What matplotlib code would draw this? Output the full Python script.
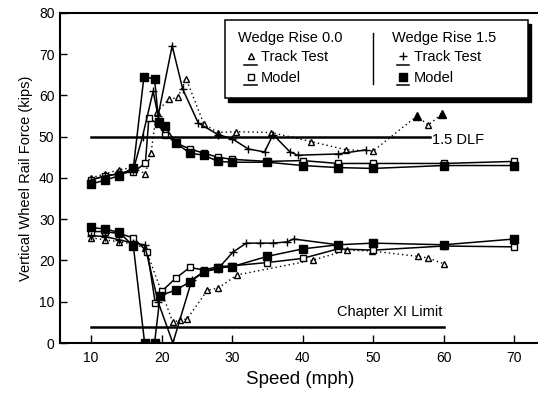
import numpy as np
import matplotlib
matplotlib.use('Agg')
import matplotlib.pyplot as plt
from matplotlib.patches import Rectangle

plt.rcParams['font.family'] = ['Liberation Sans', 'DejaVu Sans']

# ---- data ----
# Wedge Rise 0.0, track test (open triangles, dotted)
tt0_hi_x = [10, 12, 14, 16, 17.7, 18.5, 19.3, 21.0, 22.3, 23.5, 26.0, 28.0, 30.6, 35.5, 41.2, 46.2, 50.0, 56.2, 57.8, 59.8]
tt0_hi_y = [40, 41, 42, 42.5, 41, 46, 56, 59, 59.5, 64, 53, 51, 51.2, 51, 48.8, 46.8, 46.5, 55, 52.8, 55.6]
tt0_lo_x = [10, 12, 14, 16, 17.7, 21.6, 22.6, 23.6, 26.5, 28.0, 30.7, 41.5, 46.3, 49.8, 56.3, 57.8, 60.0]
tt0_lo_y = [25.5, 25, 24.5, 24, 23, 5, 5.6, 5.8, 12.8, 13.3, 16.5, 20.1, 22.5, 22.3, 21, 20.6, 19.2]
# the two filled triangles at high speed
solid_tri_x = [56.2, 59.8]
solid_tri_y = [55, 55.6]

# Wedge Rise 0.0, model (open squares)
md0_hi_x = [10, 12, 14, 16, 17.7, 18.2, 19.5, 20.5, 22, 24, 26, 28, 30, 35, 40, 45, 50, 60, 70]
md0_hi_y = [39.5, 40.5, 41, 41.5, 43.5, 54.5, 53, 50.5, 48.5, 47, 46, 45, 44.5, 44, 44.2, 43.5, 43.5, 43.5, 44]
md0_lo_x = [10, 12, 14, 16, 18, 19.1, 20, 22, 24, 26, 28, 30, 35, 40, 45, 50, 60, 70]
md0_lo_y = [27, 27, 26.5, 25.5, 22, 9.7, 12.5, 15.7, 18.3, 17.7, 18.5, 18.7, 19.5, 20.5, 22.8, 22.5, 23.5, 23.3]

# Wedge Rise 1.5, track test (plus, solid)
tt15_hi_x = [10, 12, 14, 16, 17.3, 18.8, 19.5, 21.5, 23.0, 25.2, 28, 30, 32.3, 34.6, 35.8, 38.2, 39.3, 45, 49]
tt15_hi_y = [39.5, 40.5, 41, 42, 50, 61, 55, 72, 61.5, 53.3, 50.5, 49.5, 47, 46.3, 50.5, 46.3, 45.5, 45.8, 46.8]
tt15_lo_x = [10, 12, 14, 16, 17.6, 19.5, 21.6, 24.3, 26, 28, 30.1, 32, 34, 35.8, 37.8, 38.7, 45]
tt15_lo_y = [26, 25.8, 25, 24.2, 23.8, 10, 0, 15.3, 17.3, 18, 22, 24.2, 24.2, 24.2, 24.5, 25.2, 23.8]

# Wedge Rise 1.5, model (filled squares)
md15_hi_x = [10, 12, 14, 16, 17.5, 19, 19.6, 20.5, 22, 24, 26, 28, 30, 35, 40, 45, 50, 60, 70]
md15_hi_y = [38.5, 39.5, 40.5, 42.5, 64.5, 64, 53.5, 52.5, 48.5, 46, 45.5, 44, 43.8, 43.8, 43, 42.5, 42.3, 43, 43]
md15_lo_x = [10, 12, 14, 16, 17.6, 19, 19.8, 22, 24, 26, 28, 30, 35, 40, 45, 50, 60, 70]
md15_lo_y = [28, 27.6, 26.8, 23.5, 0, 0, 11.5, 12.8, 14.8, 17.2, 18.2, 18.5, 21, 22.8, 23.8, 24.2, 23.8, 25.2]

# reference limits
dlf_level = 50
dlf_span = [10, 58]
chxi_level = 4
chxi_span = [10, 60]

xticks = [10, 20, 30, 40, 50, 60, 70]
yticks = [0, 10, 20, 30, 40, 50, 60, 70, 80]

# ---- figure ----
fig = plt.figure(figsize=(5.38, 3.95), dpi=100)
ax = fig.add_axes([0.1115, 0.1316, 0.893, 0.836])

k = 'black'
lw = 1.1
tri = dict(marker='^', mfc='white', mec=k, ms=5, mew=1.0)
osq = dict(marker='s', mfc='white', mec=k, ms=5, mew=1.0)
fsq = dict(marker='s', mfc=k, mec=k, ms=5.5)
pls = dict(marker='+', mec=k, ms=6, mew=1.0)

for xs, ys in [(tt0_hi_x, tt0_hi_y), (tt0_lo_x, tt0_lo_y)]:
    ax.plot(xs, ys, color=k, lw=1.0, ls=(0, (1, 2.2)), **tri)
ax.plot(solid_tri_x, solid_tri_y, ls='none', marker='^', color=k, ms=6)
for xs, ys in [(md0_hi_x, md0_hi_y), (md0_lo_x, md0_lo_y)]:
    ax.plot(xs, ys, color=k, lw=lw, **osq)
for xs, ys in [(tt15_hi_x, tt15_hi_y), (tt15_lo_x, tt15_lo_y)]:
    ax.plot(xs, ys, color=k, lw=lw, **pls)
for xs, ys in [(md15_hi_x, md15_hi_y), (md15_lo_x, md15_lo_y)]:
    ax.plot(xs, ys, color=k, lw=lw, **fsq)

ax.plot(dlf_span, [dlf_level] * 2, color=k, lw=1.8)
ax.plot(chxi_span, [chxi_level] * 2, color=k, lw=1.8)
ax.text(58.3, 49.2, '1.5 DLF', fontsize=10.5, va='center', ha='left')
ax.text(59.8, 7.6, 'Chapter XI Limit', fontsize=10.5, va='center', ha='right')

ax.set_xlim(5.6, 73.7)
ax.set_ylim(0, 80)
ax.set_xticks(xticks)
ax.set_yticks(yticks)
ax.tick_params(direction='in', length=5, width=1.0, labelsize=10, top=False, right=False, pad=4)
ax.tick_params(axis='x', length=6, pad=6)
for s in ['left', 'bottom', 'top']:
    ax.spines[s].set_linewidth(1.5)
ax.spines['right'].set_visible(False)
ax.set_xlabel('Speed (mph)', fontsize=13.5, labelpad=4)
ax.set_ylabel('Vertical Wheel Rail Force (kips)', fontsize=10.5, labelpad=4)

# ---- hand-made legend box with shadow ----
bx0, by0, bw, bh = 0.344, 0.742, 0.631, 0.237
ax.add_patch(Rectangle((bx0 + 0.006, by0 - 0.012), bw, bh, transform=ax.transAxes,
                       facecolor=k, edgecolor=k, zorder=5, clip_on=False))
ax.add_patch(Rectangle((bx0, by0), bw, bh, transform=ax.transAxes,
                       facecolor='white', edgecolor=k, lw=1.1, zorder=6, clip_on=False))
ax.plot([0.652, 0.652], [0.785, 0.94], transform=ax.transAxes, color=k, lw=1.0, zorder=7)

rows = [0.924, 0.865, 0.802]
cols = [(0.371, 0.397, 0.418, 'Wedge Rise 0.0', tri), (0.692, 0.714, 0.736, 'Wedge Rise 1.5', pls)]
models = [osq, fsq]
for (hx, mx, tx, head, ttm), mdm in zip(cols, models):
    ax.text(hx, rows[0], head, transform=ax.transAxes, fontsize=10.5, va='center', zorder=8)
    for r, mk, lab in [(rows[1], ttm, 'Track Test'), (rows[2], mdm, 'Model')]:
        ax.plot([mx], [r + 0.004], transform=ax.transAxes, ls='none', zorder=8, color=k, **mk)
        ax.plot([mx - 0.013, mx + 0.013], [r - 0.022] * 2, transform=ax.transAxes,
                color=k, lw=1.1, zorder=8)
        ax.text(tx, r, lab, transform=ax.transAxes, fontsize=10.5, va='center', zorder=8)

fig.savefig('out.png', dpi=100)
